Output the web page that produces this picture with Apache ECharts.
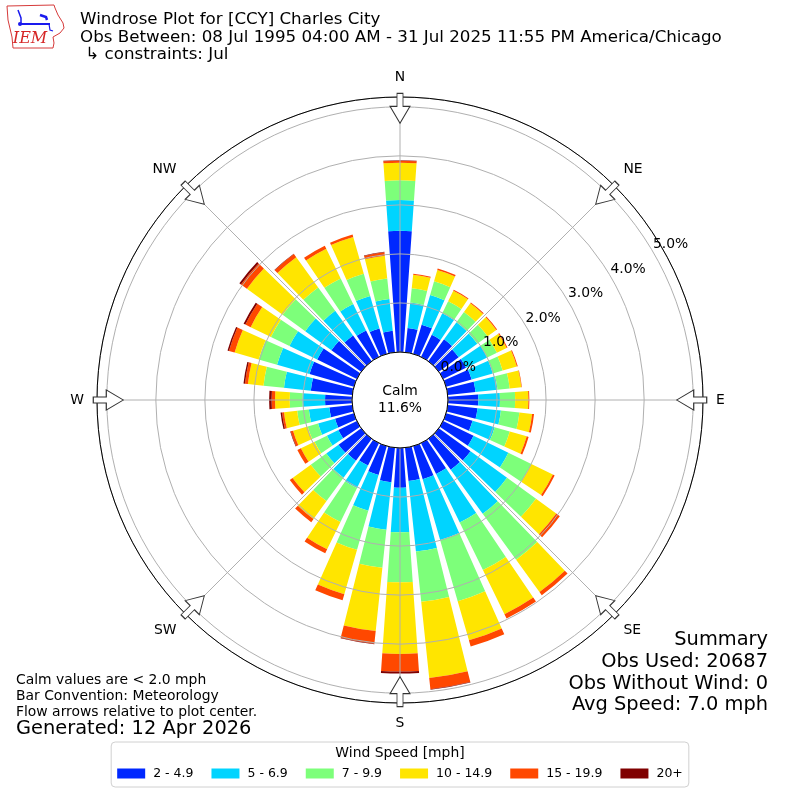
<!DOCTYPE html>
<html><head><meta charset="utf-8">
<script src="https://cdn.jsdelivr.net/npm/echarts@6/dist/echarts.min.js"></script>
<style>html,body{margin:0;padding:0;background:#fff}#c{width:800px;height:800px}</style>
</head><body><div id="c"></div>
<script>
// ---- data ----
const directions = ['0','10','20','30','40','50','60','70','80','90','100','110','120','130','140','150','160','170',
                    '180','190','200','210','220','230','240','250','260','270','280','290','300','310','320','330','340','350'];
const speedBins = ['2 - 4.9','5 - 6.9','7 - 9.9','10 - 14.9','15 - 19.9','20+'];
const binColors = ['#0028ff','#00d4ff','#7dff7a','#ffe500','#ff4800','#800000'];
// percent of observations per direction (0..350 deg) for each speed bin
const bin_2_4_9   = [2.47,0.50,0.62,0.50,0.55,0.50,0.52,0.54,0.57,0.62,0.61,0.56,0.69,0.80,0.78,0.70,0.70,0.68,0.81,0.71,0.61,0.51,0.55,0.57,0.42,0.40,0.47,0.55,0.85,0.94,0.90,0.75,0.65,0.60,0.54,0.44];
const bin_5_6_9   = [0.63,0.52,0.63,0.49,0.43,0.47,0.48,0.45,0.45,0.44,0.48,0.47,0.79,0.92,1.11,1.10,1.29,1.45,0.91,0.97,0.76,0.51,0.43,0.31,0.26,0.36,0.42,0.46,0.55,0.69,0.63,0.66,0.62,0.60,0.69,0.65];
const bin_7_9_9   = [0.40,0.29,0.29,0.27,0.26,0.26,0.22,0.21,0.25,0.31,0.38,0.32,0.52,0.73,1.16,1.08,1.30,1.03,1.02,0.78,0.83,0.77,0.59,0.39,0.28,0.22,0.24,0.26,0.42,0.39,0.42,0.57,0.59,0.58,0.47,0.42];
const bin_10_14_9 = [0.36,0.28,0.24,0.24,0.22,0.22,0.22,0.30,0.24,0.27,0.26,0.36,0.49,0.51,0.81,1.00,0.83,1.56,1.46,1.30,0.94,0.62,0.45,0.46,0.31,0.31,0.27,0.30,0.32,0.51,0.46,0.90,0.76,0.67,0.78,0.47];
const bin_15_19_9 = [0.04,0.02,0.03,0.02,0.02,0.02,0.02,0.02,0.01,0.02,0.04,0.04,0.04,0.09,0.08,0.10,0.13,0.23,0.36,0.26,0.13,0.09,0.08,0.07,0.08,0.05,0.04,0.07,0.06,0.12,0.12,0.15,0.08,0.07,0.05,0.07];
const bin_20_plus = [0.01,0,0,0,0,0,0,0,0,0,0,0,0,0,0,0,0,0.01,0.04,0.01,0,0,0,0,0,0.01,0.03,0.05,0.03,0.03,0.04,0.04,0.01,0,0,0.01];
const binData = [bin_2_4_9, bin_5_6_9, bin_7_9_9, bin_10_14_9, bin_15_19_9, bin_20_plus];

const compassAngles = [0,45,90,135,180,225,270,315];
const compassLabels = ['N','NE','E','SE','S','SW','W','NW'];
const radiusMax = 5.2;
const radiusTickStep = 1;
const arrowRadius = 4.97;
const calmPct = '11.6%';

const headerLines = ['Windrose Plot for [CCY] Charles City',
  'Obs Between: 08 Jul 1995 04:00 AM - 31 Jul 2025 11:55 PM America/Chicago',
  ' \u21b3 constraints: Jul'];
const noteLines = ['Calm values are < 2.0 mph','Bar Convention: Meteorology','Flow arrows relative to plot center.'];
const generatedLine = 'Generated: 12 Apr 2026';
const summaryLines = ['Summary','Obs Used: 20687','Obs Without Wind: 0','Avg Speed: 7.0 mph'];
const legendTitle = 'Wind Speed [mph]';

// ---- chart ----
const FF = '"DejaVu Sans", sans-serif';
const chart = echarts.init(document.getElementById('c'), null, {renderer: 'canvas'});
const center = [400, 400];
const rad = [48, 303];

function txt(x, y, text, size, align) {
  return {
    type: 'text', x: x, y: y, z: 100, silent: true,
    style: {text: text, fontSize: size, fontFamily: FF, fill: '#000',
            align: align, textAlign: align, verticalAlign: 'middle', textVerticalAlign: 'middle'}
  };
}

const graphics = [];
headerLines.forEach((t, i) => graphics.push(txt(80, 20 + i * 17.5, t, 16.7, 'left')));
noteLines.forEach((t, i) => graphics.push(txt(16, 680 + i * 16, t, 13.9, 'left')));
graphics.push(txt(16, 729, generatedLine, 19.4, 'left'));
summaryLines.forEach((t, i) => graphics.push(txt(768, 640 + i * 21.8, t, 19.4, 'right')));
graphics.push(txt(400, 391, 'Calm', 13.9, 'center'));
graphics.push(txt(400, 408, calmPct, 13.9, 'center'));
graphics.push(txt(400, 753, legendTitle, 13.9, 'center'));
// IEM logo (decoration)
graphics.push({type: 'polyline', silent: true, z: 100,
  shape: {points: [[7,6],[54,5],[55,8],[58,15],[63,23],[64,28],[60,33],[53,37],[54,43],[53,48],[13,48],[12,37],[8,20],[7,6]]},
  style: {stroke: '#d63a3a', lineWidth: 1, fill: null}});
graphics.push({type: 'polyline', silent: true, z: 100, shape: {points: [[20,24],[50,24]]}, style: {stroke: '#1a1aee', lineWidth: 2}});
graphics.push({type: 'polyline', silent: true, z: 100, shape: {points: [[18,10],[21,18],[21,24]]}, style: {stroke: '#1a1aee', lineWidth: 1.5}});
graphics.push({type: 'polyline', silent: true, z: 100, shape: {points: [[40,15],[46,17],[47,20]]}, style: {stroke: '#1a1aee', lineWidth: 2.5}});
graphics.push({type: 'polyline', silent: true, z: 100, shape: {points: [[49,24],[50,30],[53,31]]}, style: {stroke: '#1a1aee', lineWidth: 1.2}});
graphics.push({type: 'circle', silent: true, z: 100, shape: {cx: 20, cy: 24, r: 2}, style: {fill: '#1a1aee'}});
graphics.push({type: 'text', x: 30, y: 39, z: 100, silent: true,
  style: {text: 'IEM', font: 'italic 16px "DejaVu Serif", serif', fill: '#d62626',
          align: 'center', textAlign: 'center', verticalAlign: 'middle', textVerticalAlign: 'middle'}});

const barSeries = speedBins.map((name, i) => ({
  type: 'bar', name: name, coordinateSystem: 'polar', polarIndex: 2,
  stack: 'speed', data: binData[i], barCategoryGap: '20%',
  itemStyle: {color: binColors[i]}, z: 2, silent: true, animation: false
}));

const arrowPath = 'path://M7,0 L13,0 L13,13 L20,13 L10,30 L0,13 L7,13 Z';
const arrowSeries = {
  type: 'scatter', coordinateSystem: 'polar', polarIndex: 0, z: 6, silent: true,
  symbol: arrowPath, symbolSize: [20, 30], symbolKeepAspect: false,
  itemStyle: {color: '#ffffff', borderColor: '#333333', borderWidth: 1, opacity: 1},
  data: compassAngles.map(a => ({value: [arrowRadius, a], symbolRotate: -a}))
};

const option = {
  animation: false,
  backgroundColor: '#ffffff',
  textStyle: {fontFamily: FF},
  polar: [
    {center: center, radius: rad},
    {center: center, radius: rad},
    {center: center, radius: rad}
  ],
  angleAxis: [
    {polarIndex: 0, type: 'value', min: 0, max: 360, interval: 45, startAngle: 90, clockwise: true, z: 3,
     axisLine: {show: true, lineStyle: {color: '#000', width: 1}},
     axisTick: {show: false},
     splitLine: {show: true, lineStyle: {color: '#b0b0b0', width: 1}},
     axisLabel: {show: true, margin: 13, fontSize: 13.9, fontFamily: FF, color: '#000',
       formatter: v => { const i = compassAngles.indexOf(v); return i >= 0 ? compassLabels[i] : ''; }}},
    {polarIndex: 1, type: 'value', min: 0, max: 360, startAngle: 30, show: false},
    {polarIndex: 2, type: 'category', data: directions, startAngle: 95, clockwise: true, show: false}
  ],
  radiusAxis: [
    {polarIndex: 0, type: 'value', min: 0, max: radiusMax, interval: radiusTickStep, z: 3,
     axisLine: {show: false}, axisTick: {show: false}, axisLabel: {show: false},
     splitLine: {show: true, showMaxLine: false, lineStyle: {color: '#b0b0b0', width: 1}}},
    {polarIndex: 1, type: 'value', min: 0, max: radiusMax, interval: radiusTickStep, z: 4,
     axisLine: {show: false}, axisTick: {show: false}, splitLine: {show: false},
     axisLabel: {show: true, margin: 2, fontSize: 13.9, fontFamily: FF, color: '#000',
       align: 'left', verticalAlign: 'bottom',
       formatter: v => (Math.abs(v - Math.round(v)) < 1e-9 ? v.toFixed(1) + '%' : '')}},
    {polarIndex: 2, type: 'value', min: 0, max: radiusMax, show: false}
  ],
  legend: {
    data: speedBins, left: 'center', top: 742, orient: 'horizontal', z: 2,
    icon: 'rect', itemWidth: 28, itemHeight: 10, itemGap: 18,
    selectedMode: false,
    textStyle: {fontSize: 12.5, fontFamily: FF, color: '#000', padding: [0, 0, 0, 3]},
    padding: [25, 6, 7, 6], borderColor: '#d0d0d0', borderWidth: 1, borderRadius: 4,
    backgroundColor: '#ffffff'
  },
  series: barSeries.concat([arrowSeries]),
  graphic: {elements: graphics, z: 100}
};
chart.setOption(option);
</script>
</body></html>
